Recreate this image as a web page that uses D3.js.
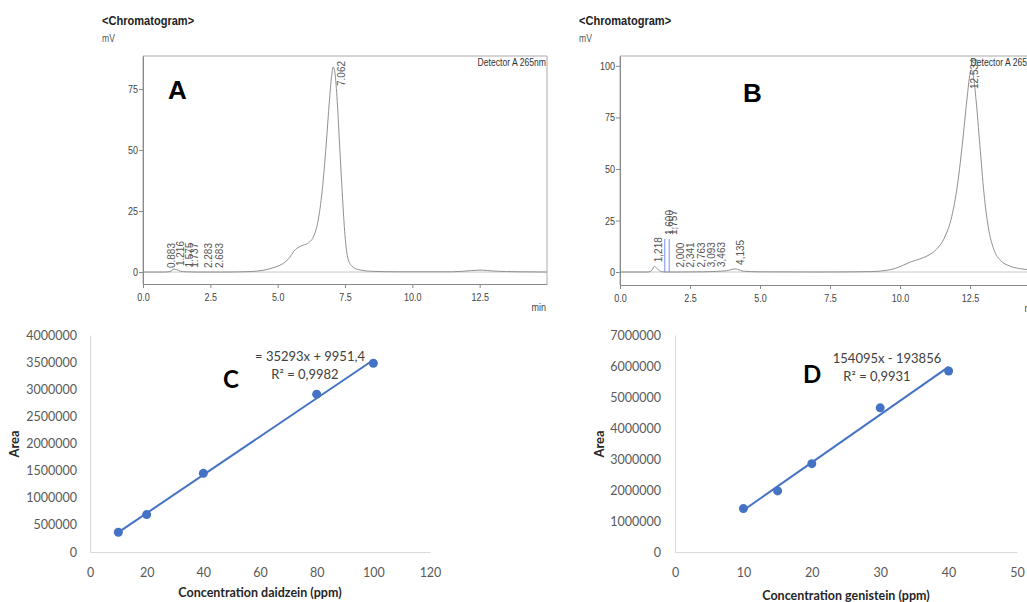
<!DOCTYPE html>
<html>
<head>
<meta charset="utf-8">
<script src="https://cdn.jsdelivr.net/npm/d3@7"></script>
<style>
body { margin: 0; background: #fff; }
svg { display: block; }
.chrom text { font-family: "Liberation Sans", Arial, sans-serif; }
.xl text { font-family: Lato, "Noto Sans", sans-serif; }
</style>
</head>
<body>
<svg id="chart" width="1027" height="602"></svg>
<script>
// ---- chromatogram A (daidzein standard) ----
var timeA   = [0, 0.8, 1.0, 1.15, 1.25, 1.4, 1.6, 2.0, 3.0, 4.0, 4.5, 4.9, 5.2, 5.45, 5.6, 5.75, 5.95, 6.15, 6.35, 6.5, 6.65, 6.8, 6.92, 7.0, 7.06, 7.12, 7.2, 7.3, 7.4, 7.5, 7.6, 7.75, 8.0, 8.5, 9.5, 11.5, 12.2, 12.6, 13.0, 14.0, 15.0];
var signalA = [0, 0, 0.2, 1.2, 1.0, 0.3, 0.1, 0, 0, 0.2, 0.8, 2, 3.5, 6, 8.5, 10, 11, 12, 15, 21, 33, 52, 70, 80, 84, 82, 72, 52, 32, 15, 6, 2.5, 1, 0.3, 0.1, 0.1, 0.6, 0.8, 0.4, 0.1, 0];
var peakTimeA   = [0.883, 1.216, 1.575, 1.737, 2.283, 2.683, 7.062];
var peakHeightA = [0, 0.8, 0.2, 0.1, 0, 0, 84];
var yTicksA = [0, 25, 50, 75];

// ---- chromatogram B (genistein standard) ----
var timeB   = [0, 1.0, 1.15, 1.22, 1.3, 1.45, 1.6, 2.0, 3.0, 3.8, 4.1, 4.2, 4.4, 5.0, 7.0, 9.0, 9.5, 9.8, 10.1, 10.4, 10.7, 11.0, 11.3, 11.6, 11.85, 12.05, 12.25, 12.4, 12.5, 12.55, 12.62, 12.72, 12.85, 13.0, 13.15, 13.35, 13.6, 13.9, 14.3, 15.0];
var signalB = [0, 0, 1.0, 2.8, 2.0, 0.3, 0, 0, 0.1, 0.6, 1.5, 1.3, 0.4, 0.1, 0, 0.2, 0.8, 1.6, 3.2, 5, 6.3, 8, 11, 17, 27, 42, 65, 85, 96, 98, 95, 83, 62, 38, 22, 11, 5.5, 3, 1.6, 0.8];
var peakTimeB   = [1.218, 1.600, 1.757, 2.000, 2.341, 2.763, 3.093, 3.463, 4.135, 12.534];
var peakHeightB = [2.8, 16, 16, 0.2, 0.3, 0.3, 0.4, 0.5, 1.5, 98];
var markedPeaksB = [1.600, 1.757];
var yTicksB = [0, 25, 50, 75, 100];

var timeTicks = [0, 2.5, 5, 7.5, 10, 12.5];

// ---- calibration C (daidzein) ----
var concC = [10, 20, 40, 80, 100];
var areaC = [365000, 690000, 1450000, 2910000, 3480000];
var slopeC = 35293, interceptC = 9951.4;
var eqC = "= 35293x + 9951,4", r2C = "R² = 0,9982";

// ---- calibration D (genistein) ----
var concD = [10, 15, 20, 30, 40];
var areaD = [1400000, 1970000, 2850000, 4650000, 5840000];
var slopeD = 154095, interceptD = -193856;
var eqD = "154095x - 193856", r2D = "R² = 0,9931";

var svg = d3.select("#chart");
var fmtTime = d3.format(".1f");
var NARROW = 0.82; // no Arial Narrow here, squeeze the sans instead

function narrowText(g, x, y, k) {
	return g.append("text").attr("transform", "translate(" + x + "," + y + ") scale(" + k + ",1)");
}

function drawChrom(c) {
	let g = svg.append("g").attr("class", "chrom");
	let x = d3.scaleLinear().domain([0, 15]).range([c.left, c.right]);
	let y = d3.scaleLinear().domain(c.yDomain).range([c.bottom, c.top]);

	narrowText(g, c.left - 41, 25, NARROW)
		.attr("font-size", 13.5).attr("font-weight", "bold").attr("fill", "#222")
		.text("<Chromatogram>");
	narrowText(g, c.left - 41, 42, NARROW)
		.attr("font-size", 10.5).attr("fill", "#555").text("mV");

	// frame (open at the bottom, the time axis closes it)
	g.append("path")
		.attr("d", "M" + x(0) + "," + y(c.yDomain[0]) + "V" + y(c.yDomain[1]) + "H" + x(15) + "V" + y(c.yDomain[0]))
		.attr("fill", "none").attr("stroke", "#aaa");

	// zero line
	g.append("line").attr("x1", x(0)).attr("x2", x(15)).attr("y1", y(0)).attr("y2", y(0))
		.attr("stroke", "#c8c8c8");

	let line = d3.line()
		.x((d, i) => x(c.time[i]))
		.y(d => y(d))
		.curve(d3.curveMonotoneX);
	g.append("path").datum(c.signal).attr("d", line)
		.attr("fill", "none").attr("stroke", "#909090").attr("stroke-width", 1);

	// blue integration markers
	g.selectAll(".mark").data(c.marked).enter().append("line")
		.attr("x1", d => x(d)).attr("x2", d => x(d))
		.attr("y1", y(0)).attr("y2", d => y(c.peakH[c.peakT.indexOf(d)]))
		.attr("stroke", "#7b8cf0").attr("stroke-width", 1);

	// axes
	let xa = g.append("g").attr("transform", "translate(0," + y(c.yDomain[0]) + ")");
	xa.call(d3.axisBottom(x).tickValues(d3.range(0, 15.01, 0.5)).tickSize(3).tickSizeOuter(0).tickFormat(""));
	xa.call(d3.axisBottom(x).tickValues(timeTicks).tickSize(4).tickSizeOuter(0).tickPadding(5).tickFormat(fmtTime));
	let ya = g.append("g").attr("transform", "translate(" + x(0) + ",0)");
	ya.call(d3.axisLeft(y).tickValues(d3.range(-5, c.yDomain[1], 5)).tickSize(3).tickSizeOuter(0).tickFormat(""));
	ya.call(d3.axisLeft(y).tickValues(c.yTicks).tickSize(4).tickSizeOuter(0).tickPadding(2));
	g.selectAll(".domain, .tick line").attr("stroke", "#888");
	g.selectAll(".tick text").attr("font-size", 11).attr("fill", "#444")
		.attr("font-family", "'Liberation Sans', Arial, sans-serif")
		.attr("transform", "scale(" + NARROW + ",1)");

	narrowText(g, x(15) - 1, y(c.yDomain[0]) + 27, NARROW)
		.attr("text-anchor", "end").attr("font-size", 11).attr("fill", "#444").text("min");

	narrowText(g, x(15) - 1, y(c.yDomain[1]) + 10, NARROW)
		.attr("text-anchor", "end").attr("font-size", 10.5).attr("fill", "#333").text("Detector A 265nm");

	// retention time labels
	g.selectAll(".peak").data(c.peakT).enter().append("text")
		.attr("transform", (d, i) => {
			let h = c.peakH[i];
			let big = h > 50;
			let py = big ? y(h) + 19 : y(h) - 4;
			return "translate(" + (x(d) + (big ? c.mainDx : 8)) + "," + py + ") rotate(-90)";
		})
		.attr("font-size", 10).attr("fill", "#555")
		.text(d => c.sep ? d.toFixed(3).replace(".", c.sep) : d.toFixed(3));

	g.append("text").attr("x", c.letterX).attr("y", c.letterY)
		.attr("font-family", "Lato, 'Liberation Sans', sans-serif")
		.attr("font-size", 26).attr("font-weight", "bold").attr("fill", "#000").text(c.letter);
}

function drawCal(c) {
	let g = svg.append("g").attr("class", "xl");
	let x = d3.scaleLinear().domain([0, c.xMax]).range([c.left, c.right]);
	let y = d3.scaleLinear().domain([0, c.yMax]).range([552, 335]);

	g.append("g").attr("transform", "translate(0,552)")
		.call(d3.axisBottom(x).tickValues(d3.range(0, c.xMax + 1, c.xStep)).tickSize(0).tickPadding(16));
	g.append("g").attr("transform", "translate(" + c.left + ",0)")
		.call(d3.axisLeft(y).tickValues(d3.range(0, c.yMax + 1, c.yStep)).tickSize(0).tickPadding(c.pad)
			.tickFormat(d3.format("d")));
	g.selectAll(".domain").attr("stroke", "#d9d9d9");
	g.selectAll(".tick text").attr("font-size", 12.5).attr("fill", "#595959")
		.attr("font-family", "Lato, 'Noto Sans', sans-serif");

	// linear trendline over the measured range
	let ends = d3.extent(c.conc);
	let trend = d3.line().x(d => x(d)).y(d => y(c.slope * d + c.intercept));
	g.append("path").datum(ends).attr("d", trend)
		.attr("stroke", "#4472c4").attr("stroke-width", 2).attr("fill", "none");

	g.selectAll("circle").data(c.area).enter().append("circle")
		.attr("cx", (d, i) => x(c.conc[i])).attr("cy", d => y(d)).attr("r", 4.5)
		.attr("fill", "#4472c4");

	g.append("text").attr("x", c.eqX).attr("y", c.eqY).attr("text-anchor", "middle")
		.attr("font-size", 13).attr("fill", "#404040").text(c.eq);
	g.append("text").attr("x", c.r2X).attr("y", c.eqY + 18).attr("text-anchor", "middle")
		.attr("font-size", 13).attr("fill", "#404040").text(c.r2);

	g.append("text").attr("transform", "translate(" + (c.left - 71) + ",444) rotate(-90)")
		.attr("text-anchor", "middle").attr("font-size", 13).attr("font-weight", "bold")
		.attr("fill", "#262626").text("Area");
	g.append("text").attr("x", (c.left + c.right) / 2).attr("y", c.titleY).attr("text-anchor", "middle")
		.attr("font-size", 12.5).attr("font-weight", "bold").attr("fill", "#262626").text(c.title);

	g.append("text").attr("x", c.letterX).attr("y", c.letterY)
		.attr("font-size", 24).attr("font-weight", "bold").attr("fill", "#000").text(c.letter);
}

drawChrom({
	left: 143, right: 547, top: 56, bottom: 284, yDomain: [-4.9, 88.5],
	time: timeA, signal: signalA, peakT: peakTimeA, peakH: peakHeightA, marked: [],
	yTicks: yTicksA, mainDx: 12, letter: "A", letterX: 168, letterY: 99
});

drawChrom({
	left: 620, right: 1040, top: 56, bottom: 285, yDomain: [-6.3, 104.8],
	time: timeB, signal: signalB, peakT: peakTimeB, peakH: peakHeightB, marked: markedPeaksB,
	yTicks: yTicksB, mainDx: 7, letter: "B", letterX: 743, letterY: 102, sep: ","
});

drawCal({
	left: 90, right: 430, xMax: 120, xStep: 20, yMax: 4000000, yStep: 500000, pad: 13,
	conc: concC, area: areaC, slope: slopeC, intercept: interceptC,
	eq: eqC, r2: r2C, eqX: 310, r2X: 305, eqY: 361,
	title: "Concentration daidzein (ppm)", titleY: 597,
	letter: "C", letterX: 223, letterY: 388
});

drawCal({
	left: 675, right: 1017, xMax: 50, xStep: 10, yMax: 7000000, yStep: 1000000, pad: 14,
	conc: concD, area: areaD, slope: slopeD, intercept: interceptD,
	eq: eqD, r2: r2D, eqX: 887, r2X: 877, eqY: 363,
	title: "Concentration genistein (ppm)", titleY: 600,
	letter: "D", letterX: 803, letterY: 383
});
</script>
</body>
</html>
